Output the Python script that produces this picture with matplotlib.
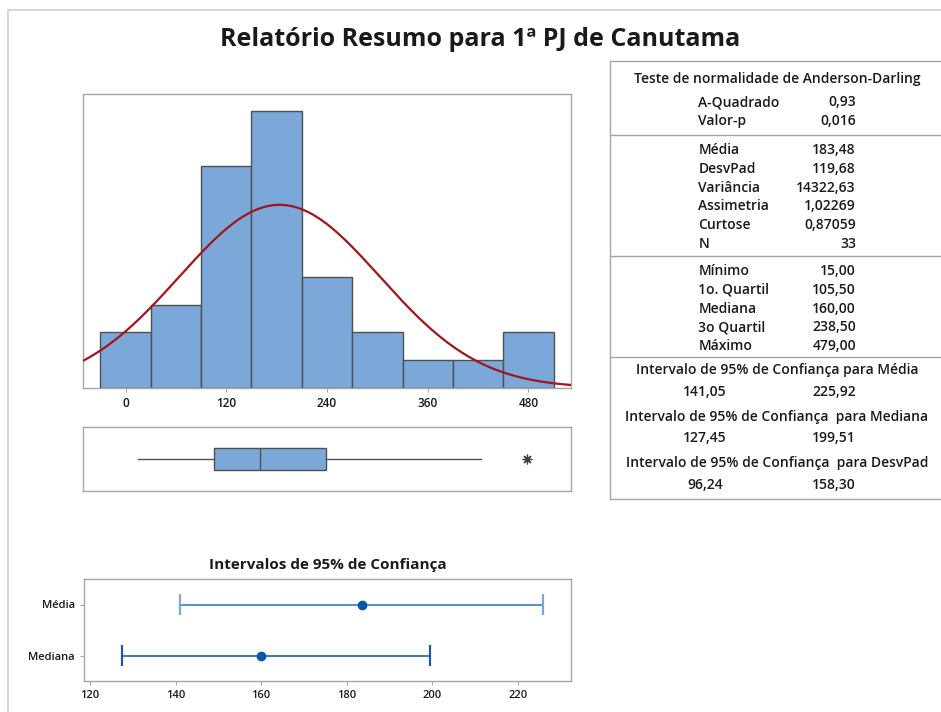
import numpy as np
import matplotlib.pyplot as plt
from matplotlib.lines import Line2D

plt.rcParams['font.family'] = ['Open Sans', 'DejaVu Sans']

# Histogram classes (width 60) and their frequencies
bin_centers = [0, 60, 120, 180, 240, 300, 360, 420, 480]
counts = [2, 3, 8, 10, 4, 2, 1, 1, 2]
bin_width = 60

# Descriptive statistics
n_obs = 33
media = 183.48
desvpad = 119.68
minimo = 15.00
q1 = 105.50
mediana = 160.00
q3 = 238.50
whisker_hi = 423.0
outliers = [479.0]

# 95% confidence intervals
ci_labels = ['Média', 'Mediana']
ci_centers = [183.48, 160.00]
ci_low = [141.05, 127.45]
ci_high = [225.92, 199.51]

# Summary table contents
ad_rows = [('A-Quadrado', '0,93'), ('Valor-p', '0,016')]
desc_rows = [('Média', '183,48'), ('DesvPad', '119,68'), ('Variância', '14322,63'),
             ('Assimetria', '1,02269'), ('Curtose', '0,87059'), ('N', '33')]
quart_rows = [('Mínimo', '15,00'), ('1o. Quartil', '105,50'), ('Mediana', '160,00'),
              ('3o Quartil', '238,50'), ('Máximo', '479,00')]
ci_rows = [('Intervalo de 95% de Confiança para Média', '141,05', '225,92'),
           ('Intervalo de 95% de Confiança  para Mediana', '127,45', '199,51'),
           ('Intervalo de 95% de Confiança  para DesvPad', '96,24', '158,30')]

W, H = 941, 712
SPINE = '#a6a6a6'
TXT = '#1a1a1a'


def fx(px):
    return px / W


def fy(py):
    return 1 - py / H


def axes_px(x0, y0, x1, y1):
    return [fx(x0), fy(y1), fx(x1) - fx(x0), fy(y0) - fy(y1)]


def style_spines(ax):
    for s in ax.spines.values():
        s.set_color(SPINE)
        s.set_linewidth(1.0)


fig = plt.figure(figsize=(W / 100, H / 100), dpi=100)

# outer frame of the report
fig.add_artist(Line2D([fx(8), fx(8), fx(W)], [fy(H), fy(10), fy(10)],
                      color='#d0d0d0', lw=1.2))

fig.text(fx(480), fy(40), 'Relatório Resumo para 1ª PJ de Canutama',
         ha='center', va='center', fontsize=18, fontweight='bold', color=TXT)

# --- histogram with fitted normal curve ---
ax = fig.add_axes(axes_px(83.3, 94, 570.7, 387.7))
ax.bar(bin_centers, counts, width=bin_width, color='#7ba7d9',
       edgecolor='#505050', linewidth=1.0, zorder=2)
xs = np.linspace(-55, 535, 500)
dens = n_obs * bin_width / (desvpad * np.sqrt(2 * np.pi)) * np.exp(-0.5 * ((xs - media) / desvpad) ** 2)
ax.plot(xs, dens, color='#a0161b', lw=1.6, zorder=3)
ax.set_xlim(-50.5, 530.5)
ax.set_ylim(0, 10.6)
ax.set_xticks([0, 120, 240, 360, 480])
ax.set_yticks([])
ax.tick_params(axis='x', colors=SPINE, labelcolor=TXT, labelsize=8.5, length=3)
for lab in ax.get_xticklabels():
    lab.set_fontweight('semibold')
style_spines(ax)

# --- boxplot ---
axb = fig.add_axes(axes_px(83.3, 427.3, 570.7, 491))
stats = [dict(med=mediana, q1=q1, q3=q3, whislo=minimo, whishi=whisker_hi,
              fliers=outliers)]
axb.bxp(stats, vert=False, widths=0.35, patch_artist=True, showcaps=False,
        boxprops=dict(facecolor='#7ba7d9', edgecolor='#505050', lw=1.0),
        medianprops=dict(color='#505050', lw=1.0),
        whiskerprops=dict(color='#505050', lw=1.0),
        flierprops=dict(marker=(8, 2, 0), markersize=7, markeredgecolor='#404040',
                        markeredgewidth=0.9))
axb.set_xlim(-50.5, 530.5)
axb.set_ylim(0.5, 1.5)
axb.set_xticks([])
axb.set_yticks([])
style_spines(axb)

# --- confidence intervals ---
axc = fig.add_axes(axes_px(84, 579, 571, 681))
ypos = [1, 0]
line_cols = ['#3a7bc8', '#1f5aa6']
cap_cols = ['#7ba7d9', '#1f5aa6']
for yv, c, lo, hi, lc, cc in zip(ypos, ci_centers, ci_low, ci_high, line_cols, cap_cols):
    axc.hlines(yv, lo, hi, color=lc, lw=1.2)
    axc.vlines([lo, hi], yv - 0.2, yv + 0.2, color=cc, lw=1.6)
    axc.plot(c, yv, 'o', color='#0b56a8', markersize=6)
axc.set_xlim(118.6, 232.4)
axc.set_ylim(-0.5, 1.5)
axc.set_xticks([120, 140, 160, 180, 200, 220])
axc.set_yticks(ypos)
axc.set_yticklabels(ci_labels)
axc.tick_params(colors=SPINE, labelcolor=TXT, labelsize=8, length=3)
for lab in axc.get_xticklabels() + axc.get_yticklabels():
    lab.set_fontweight('semibold')
style_spines(axc)
axc.set_title('Intervalos de 95% de Confiança', fontsize=11, fontweight='bold',
              color=TXT, pad=7)

# --- summary table ---
TL, TR = 610.3, W
fig.add_artist(Line2D([fx(TL), fx(TL)], [fy(61), fy(499)], color=SPINE, lw=1.0))
for yl in [61, 135, 256, 357, 499]:
    fig.add_artist(Line2D([fx(TL), fx(TR)], [fy(yl), fy(yl)], color=SPINE, lw=1.0))

tkw = dict(fontsize=10, fontweight='semibold', color=TXT, va='center')
LAB_X, VAL_X = 698.5, 856
fig.text(fx(777), fy(79), 'Teste de normalidade de Anderson-Darling', ha='center', **tkw)


def table_rows(rows, y0, dy=18.8):
    for i, (lab, val) in enumerate(rows):
        y = y0 + i * dy
        fig.text(fx(LAB_X), fy(y), lab, ha='left', **tkw)
        fig.text(fx(VAL_X), fy(y), val, ha='right', **tkw)


table_rows(ad_rows, 102.5)
table_rows(desc_rows, 150)
table_rows(quart_rows, 271)

for i, (head, lo, hi) in enumerate(ci_rows):
    yh = 370 + i * 46.5
    fig.text(fx(777), fy(yh), head, ha='center', **tkw)
    fig.text(fx(705), fy(yh + 22), lo, ha='center', **tkw)
    fig.text(fx(VAL_X), fy(yh + 22), hi, ha='right', **tkw)

fig.savefig('out.png', dpi=100)
